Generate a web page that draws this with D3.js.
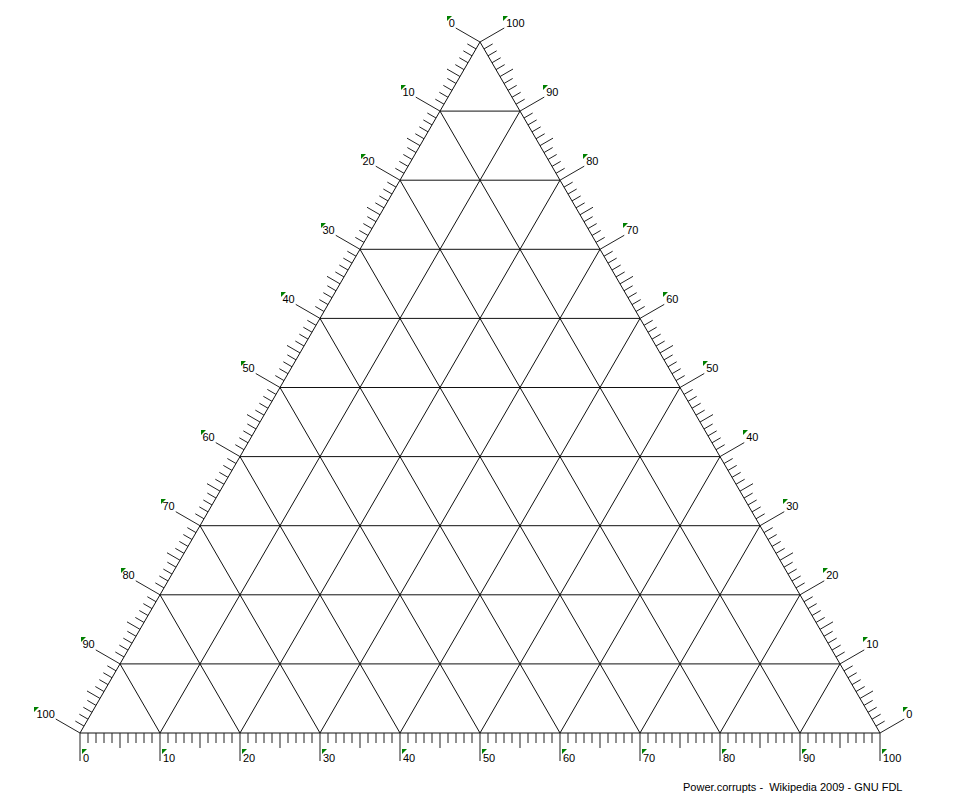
<!DOCTYPE html>
<html>
<head>
<meta charset="utf-8">
<script src="https://cdn.jsdelivr.net/npm/d3@7"></script>
<style>
  body { margin: 0; background: #fff; }
  text { font-family: "Liberation Sans", Arial, sans-serif; font-size: 11px; fill: #000; }
</style>
</head>
<body>
<div id="chart"></div>
<script>
// axis values, 0..100 on each side of the triangle
var tickValues = d3.range(0, 101, 1);
var gridValues = [10, 20, 30, 40, 50, 60, 70, 80, 90];
var labelValues = [0, 10, 20, 30, 40, 50, 60, 70, 80, 90, 100];
var footer = "Power.corrupts -  Wikipedia 2009 - GNU FDL";

var width = 964, height = 796;
var svg = d3.select("#chart").append("svg").attr("width", width).attr("height", height);

// corners: apex, bottom left, bottom right
var apex = [480, 42], left = [80, 733], right = [880, 733];

// bottom axis: 0 at left corner, 100 at right corner
var botX = d3.scaleLinear().domain([0, 100]).range([left[0], right[0]]);
// left axis: 0 at apex, 100 at bottom left
var leftX = d3.scaleLinear().domain([0, 100]).range([apex[0], left[0]]);
var leftY = d3.scaleLinear().domain([0, 100]).range([apex[1], left[1]]);
// right axis: 0 at bottom right, 100 at apex
var rightX = d3.scaleLinear().domain([0, 100]).range([right[0], apex[0]]);
var rightY = d3.scaleLinear().domain([0, 100]).range([right[1], apex[1]]);

var lp = v => [leftX(v), leftY(v)];
var rp = v => [rightX(v), rightY(v)];
var bp = v => [botX(v), left[1]];

// outward normals for the three sides
var nLeft = [-Math.cos(Math.PI / 6), -Math.sin(Math.PI / 6)];
var nRight = [Math.cos(Math.PI / 6), -Math.sin(Math.PI / 6)];
var nBot = [0, 1];

var tickLen = v => v % 10 === 0 ? 28 : (v % 5 === 0 ? 15 : 10);

// grid lines
var grid = svg.append("g").attr("stroke", "#111").attr("stroke-width", 1).attr("fill", "none");
gridValues.forEach(function(v) {
  var segs = [
    [lp(v), rp(100 - v)],      // horizontal
    [bp(v), lp(100 - v)],      // parallel to right side
    [bp(v), rp(100 - v)]       // parallel to left side
  ];
  segs.forEach(function(s) {
    grid.append("line").attr("x1", s[0][0]).attr("y1", s[0][1]).attr("x2", s[1][0]).attr("y2", s[1][1]);
  });
});

// triangle outline
svg.append("path")
  .attr("d", d3.line()([apex, left, right, apex]))
  .attr("fill", "none").attr("stroke", "#111").attr("stroke-width", 1);

// ticks
var ticks = svg.append("g").attr("stroke", "#222").attr("stroke-width", 1);
function drawTicks(pos, n) {
  ticks.selectAll(null).data(tickValues).enter().append("line")
    .attr("x1", d => pos(d)[0]).attr("y1", d => pos(d)[1])
    .attr("x2", d => pos(d)[0] + n[0] * tickLen(d))
    .attr("y2", d => pos(d)[1] + n[1] * tickLen(d));
}
drawTicks(lp, nLeft);
drawTicks(rp, nRight);
drawTicks(bp, nBot);

// labels with the small green corner marker
var labels = svg.append("g");
function marker(x, y) {
  labels.append("path")
    .attr("d", "M" + x + "," + y + "h5l-5,5z")
    .attr("fill", "#008000");
}

labelValues.forEach(function(v) {
  // left side
  var p = lp(v), ex = p[0] + nLeft[0] * 28, ey = p[1] + nLeft[1] * 28;
  var t = labels.append("text").attr("x", ex - 1).attr("y", ey - 1.5)
    .attr("text-anchor", "end").text(v);
  var w = t.node().getComputedTextLength();
  marker(Math.round(ex - 1 - w - 2), Math.round(ey - 12.5));

  // right side
  p = rp(v); ex = p[0] + nRight[0] * 28; ey = p[1] + nRight[1] * 28;
  labels.append("text").attr("x", ex + 2).attr("y", ey - 1.5).text(v);
  marker(Math.round(ex - 1.5), Math.round(ey - 12.5));

  // bottom
  p = bp(v);
  labels.append("text").attr("x", p[0] + 3).attr("y", p[1] + 29).text(v);
  marker(Math.round(p[0] + 1.5), p[1] + 16);
});

svg.append("text")
  .attr("x", 683).attr("y", 791)
  .style("white-space", "pre")
  .text(footer);
</script>
</body>
</html>
